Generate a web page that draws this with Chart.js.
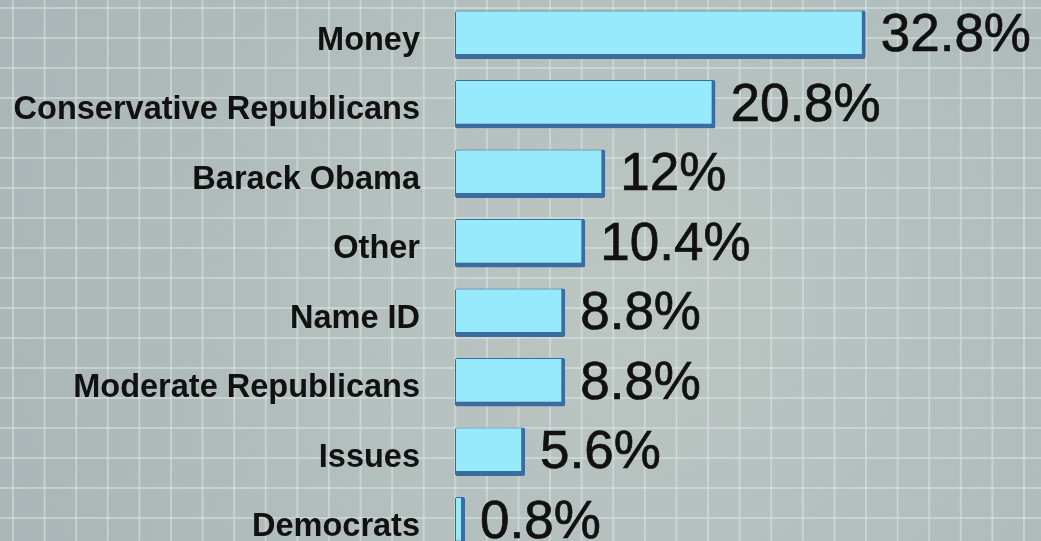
<!DOCTYPE html>
<html lang="en">
<head>
  <meta charset="UTF-8">
  <title>Sources</title>
  <script src="https://cdn.jsdelivr.net/npm/chart.js"></script>
  <style>
    html, body { margin: 0; padding: 0; overflow: hidden; }
    body {
      width: 1041px; height: 541px;
      background-color: #b3bfbd;
      background-image:
        linear-gradient(to right, rgba(222,230,228,0.5) 2px, transparent 2px),
        linear-gradient(to bottom, rgba(222,230,228,0.5) 2px, transparent 2px),
        radial-gradient(circle at 640px 300px, #bcc6c3 0px, #b4c0be 300px, #a9b5b6 700px);
      background-size: 31.6px 30px, 31.6px 30px, 100% 100%;
      background-position: 12px 7px, 12px 7px, 0 0;
    }
    .wrap { position: relative; width: 1041px; height: 556px; }
  </style>
</head>
<body>
  <div class="wrap"><canvas id="sourceChart"></canvas></div>
  <script>
    const categories = ['Money', 'Conservative Republicans', 'Barack Obama', 'Other', 'Name ID', 'Moderate Republicans', 'Issues', 'Democrats'];
    const shares = [32.8, 20.8, 12, 10.4, 8.8, 8.8, 5.6, 0.8];
    const valueLabels = ['32.8%', '20.8%', '12%', '10.4%', '8.8%', '8.8%', '5.6%', '0.8%'];

    // big numbers to the right of each bar
    const valueText = {
      id: 'valueText',
      afterDatasetsDraw(chart) {
        const ctx = chart.ctx;
        const bars = chart.getDatasetMeta(0).data;
        ctx.save();
        ctx.fillStyle = '#111';
        ctx.strokeStyle = '#111';
        ctx.lineWidth = 0.7;
        ctx.font = '53px "Liberation Sans", Arial, sans-serif';
        ctx.textBaseline = 'middle';
        ctx.textAlign = 'left';
        bars.forEach((bar, i) => {
          ctx.fillText(valueLabels[i], bar.x + 15, bar.y + 2);
          ctx.strokeText(valueLabels[i], bar.x + 15, bar.y + 2);
        });
        ctx.restore();
      }
    };

    new Chart(document.getElementById('sourceChart'), {
      type: 'bar',
      data: {
        labels: categories,
        datasets: [{
          data: shares,
          backgroundColor: '#96eafc',
          borderColor: '#3a6c9f',
          borderWidth: { top: 1, left: 1, right: 4, bottom: 5 },
          borderSkipped: false,
          borderRadius: 2,
          categoryPercentage: 1,
          barPercentage: 0.7
        }]
      },
      options: {
        indexAxis: 'y',
        responsive: true,
        maintainAspectRatio: false,
        animation: false,
        layout: { padding: 0 },
        plugins: {
          legend: { display: false },
          tooltip: { enabled: false }
        },
        scales: {
          x: {
            display: false,
            min: 0,
            max: 46.8
          },
          y: {
            grid: { display: false, drawTicks: false },
            border: { display: false },
            ticks: {
              color: '#111',
              padding: 35,
              labelOffset: 6,
              font: { family: '"Liberation Sans", Arial, sans-serif', size: 32.5, weight: 'bold' }
            },
            afterFit(scale) {
              scale.width = 455;
              scale.paddingTop = 0;
              scale.paddingBottom = 0;
            }
          }
        }
      },
      plugins: [valueText]
    });
  </script>
</body>
</html>
